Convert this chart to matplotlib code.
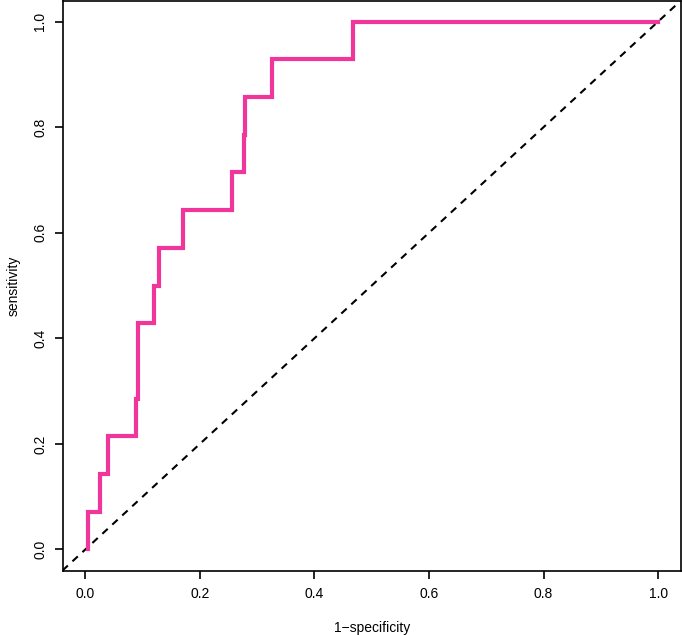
import matplotlib
matplotlib.use("Agg")
import matplotlib.pyplot as plt

# ROC curve data
fpr = [0.004, 0.004, 0.026, 0.026, 0.040, 0.040, 0.089, 0.089, 0.091, 0.091,
       0.120, 0.120, 0.129, 0.129, 0.171, 0.171, 0.2565, 0.2565, 0.277, 0.277,
       0.279, 0.279, 0.325, 0.325, 0.468, 0.468, 1.0]
tpr = [0.0, 0.0714, 0.0714, 0.1429, 0.1429, 0.2143, 0.2143, 0.2857, 0.2857, 0.4286,
       0.4286, 0.5, 0.5, 0.5714, 0.5714, 0.6429, 0.6429, 0.7143, 0.7143, 0.7857,
       0.7857, 0.8571, 0.8571, 0.9286, 0.9286, 1.0, 1.0]
ticks = [0.0, 0.2, 0.4, 0.6, 0.8, 1.0]
tick_labels = ["0.0", "0.2", "0.4", "0.6", "0.8", "1.0"]

plt.rcParams['font.family'] = ['Liberation Sans', 'DejaVu Sans']

W, H = 682, 635
fig = plt.figure(figsize=(W / 100, H / 100), dpi=100)
ax = fig.add_axes([62.5 / W, (H - 570.5) / H, (681 - 62.5) / W, (570.5 - 0.5) / H])

ax.plot(fpr, tpr, color='#F0369A', lw=3.0, solid_joinstyle='miter', zorder=3)
ax.axline((0, 0), slope=1, color='black', lw=1.5, linestyle=(0, (3.5, 3)), zorder=2)

ax.set_xlim(-0.04, 1.04)
ax.set_ylim(-0.04, 1.04)
ax.set_xticks(ticks)
ax.set_xticklabels(tick_labels)
ax.set_yticks(ticks)
ax.set_yticklabels(tick_labels, rotation=90, va='center')
ax.tick_params(direction='out', length=6, width=1.2, labelsize=10, colors='black')
ax.tick_params(axis='x', pad=6)
ax.tick_params(axis='y', pad=5)
for s in ax.spines.values():
    s.set_linewidth(1.2)
ax.set_xlabel("1\u2212specificity", fontsize=10, labelpad=14)
ax.set_ylabel("sensitivity", fontsize=10, labelpad=9)

fig.savefig("out.png", dpi=100)
